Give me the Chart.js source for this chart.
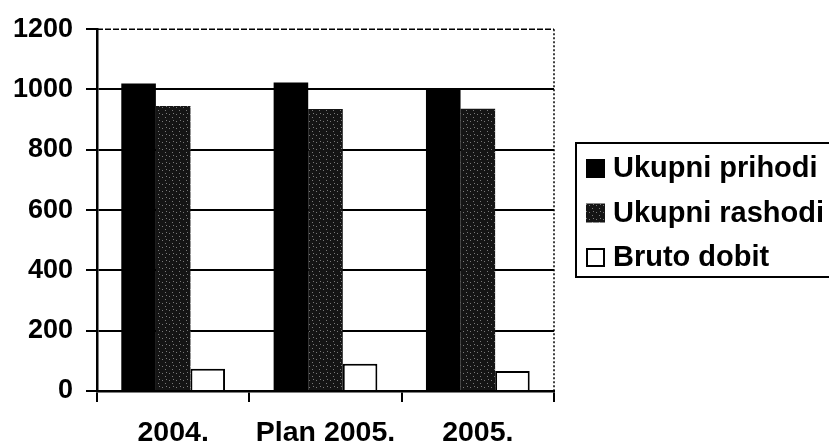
<!DOCTYPE html>
<html><head><meta charset="utf-8">
<script src="https://cdn.jsdelivr.net/npm/chart.js@4/dist/chart.umd.min.js"></script>
<style>html,body{margin:0;padding:0;background:#fff}#wrap{width:829px;height:448px;position:relative}</style>
</head><body><div id="wrap"><canvas id="c" width="829" height="448"></canvas></div>
<script>
const categories = ['2004.', 'Plan 2005.', '2005.'];
const seriesNames = ['Ukupni prihodi', 'Ukupni rashodi', 'Bruto dobit'];
const ukupniPrihodi = [1020, 1023, 1003];
const ukupniRashodi = [945, 935, 936];
const brutoDobit = [74, 90, 66];
const yMin = 0, yMax = 1200, yStep = 200;

const FONT = '"Liberation Sans", Arial, sans-serif';
Chart.defaults.font.family = FONT;
Chart.defaults.font.weight = 'bold';
Chart.defaults.color = '#000';

function stipple() {
  const p = document.createElement('canvas');
  p.width = 7; p.height = 7;
  const g = p.getContext('2d');
  g.fillStyle = '#151515'; g.fillRect(0, 0, 7, 7);
  g.fillStyle = '#7a7a7a';
  g.fillRect(1, 2, 1, 1); g.fillRect(4, 5, 1, 1); g.fillRect(5, 1, 1, 1);
  return g.createPattern(p, 'repeat');
}
const grayFill = stipple();

const framePlugin = {
  id: 'frame',
  afterDatasetsDraw(chart) {
    const { ctx, chartArea: a } = chart;
    ctx.save();
    ctx.strokeStyle = '#000';
    ctx.lineWidth = 1.5;
    ctx.setLineDash([6, 2]);
    ctx.beginPath(); ctx.moveTo(a.left, a.top); ctx.lineTo(a.right, a.top); ctx.stroke();
    ctx.setLineDash([2, 2]);
    ctx.beginPath(); ctx.moveTo(a.right, a.top); ctx.lineTo(a.right, a.bottom); ctx.stroke();
    ctx.restore();
  }
};

const legendPlugin = {
  id: 'boxLegend',
  afterDraw(chart) {
    const { ctx, chartArea: a } = chart;
    const x0 = a.right + 22, y0 = 143, h = 134;
    ctx.save();
    ctx.lineWidth = 2; ctx.strokeStyle = '#000';
    ctx.strokeRect(x0, y0, 300, h);
    chart.data.datasets.forEach((ds, i) => {
      const cy = y0 + 25 + i * 44.5;
      ctx.fillStyle = ds.backgroundColor;
      ctx.fillRect(x0 + 10, cy - 9, 19, 19);
      if (ds.borderWidth) {
        ctx.lineWidth = 2; ctx.strokeStyle = '#000';
        ctx.strokeRect(x0 + 11, cy - 8, 17, 17);
      }
      ctx.fillStyle = '#000';
      ctx.font = 'bold 29px ' + FONT;
      ctx.textBaseline = 'middle';
      ctx.fillText(ds.label, x0 + 37, cy + 1);
    });
    ctx.restore();
  }
};

new Chart(document.getElementById('c'), {
  type: 'bar',
  data: {
    labels: categories,
    datasets: [
      { label: seriesNames[0], data: ukupniPrihodi, backgroundColor: '#000', borderWidth: 0 },
      { label: seriesNames[1], data: ukupniRashodi, backgroundColor: grayFill, borderWidth: 0 },
      { label: seriesNames[2], data: brutoDobit, backgroundColor: '#fff', borderColor: '#000', borderWidth: 2 }
    ]
  },
  options: {
    responsive: false,
    animation: false,
    layout: { padding: { top: 27, right: 275, bottom: 0, left: 0 } },
    datasets: { bar: { categoryPercentage: 0.681, barPercentage: 1 } },
    plugins: { legend: { display: false }, tooltip: { enabled: false } },
    scales: {
      x: {
        afterFit(s) { s.height = 57; },
        grid: { offset: true, drawOnChartArea: false, drawTicks: true, tickLength: 11, color: '#000', lineWidth: 2 },
        border: { display: true, color: '#000', width: 2.5 },
        ticks: { font: { size: 28.5, weight: 'bold' }, color: '#000', padding: 14 }
      },
      y: {
        min: yMin, max: yMax,
        afterFit(s) { s.width = 97; },
        grid: {
          color: (c) => (c.tick && c.tick.value === yMax) ? 'rgba(0,0,0,0)' : '#000',
          tickColor: '#000',
          lineWidth: 2, tickLength: 11, drawTicks: true
        },
        border: { display: true, color: '#000', width: 2.5 },
        ticks: { stepSize: yStep, font: { size: 27, weight: 'bold' }, color: '#000', padding: 13,
                 callback: (v) => String(v) }
      }
    }
  },
  plugins: [framePlugin, legendPlugin]
});
</script></body></html>
